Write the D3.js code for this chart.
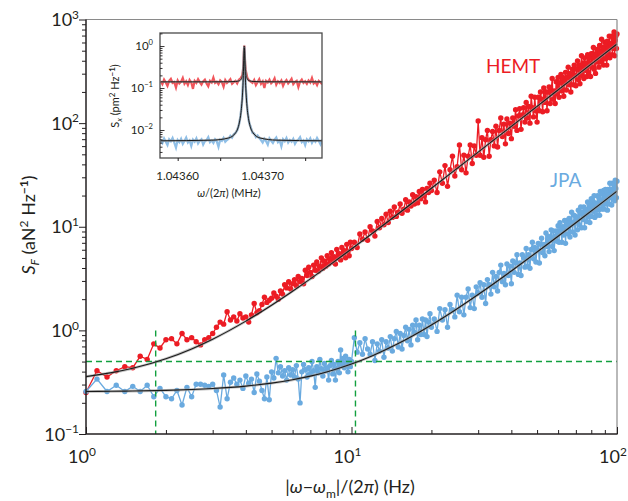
<!DOCTYPE html>
<html><head><meta charset="utf-8">
<script src="https://cdnjs.cloudflare.com/ajax/libs/d3/7.8.5/d3.min.js"></script>
<style>body{margin:0;background:#fff}text{font-family:Lato,"Open Sans",sans-serif;fill:#231f20}</style>
</head><body>
<svg id="c" width="628" height="501"></svg>
<script>
// ---------- main panel data ----------
const freqHz = [1,1.1,1.2,1.3,1.4,1.5,1.6,1.7,1.8,1.9,2,2.1,2.2,2.3,2.4,2.5,2.6,2.7,2.8,2.9,3,3.1,3.2,3.3,3.4,3.5,3.6,3.7,3.8,3.9,4,4.1,4.2,4.3,4.4,4.5,4.6,4.7,4.8,4.9,5,5.1,5.2,5.3,5.4,5.5,5.6,5.7,5.8,5.9,6,6.1,6.2,6.3,6.4,6.5,6.6,6.7,6.8,6.9,7,7.1,7.2,7.3,7.4,7.5,7.6,7.7,7.8,7.9,8,8.1,8.2,8.3,8.4,8.5,8.6,8.7,8.8,8.9,9,9.1,9.2,9.3,9.4,9.5,9.6,9.7,9.8,9.9,10,
10.25,10.5,10.75,11,11.25,11.5,11.75,12,12.25,12.5,12.75,13,13.25,13.5,13.75,14,14.25,14.5,14.75,15,15.25,15.5,15.75,16,16.25,16.5,16.75,17,17.25,17.5,17.75,18,18.25,18.5,18.75,19,19.25,19.5,19.75,20,
20.5,21,21.5,22,22.5,23,23.5,24,24.5,25,25.5,26,26.5,27,27.5,28,28.5,29,29.5,30,30.5,31,31.5,32,32.5,33,33.5,34,34.5,35,35.5,36,36.5,37,37.5,38,38.5,39,39.5,40,40.5,41,41.5,42,42.5,43,43.5,44,44.5,45,45.5,46,46.5,47,47.5,48,48.5,49,49.5,50,50.5,51,51.5,52,52.5,53,53.5,54,54.5,55,55.5,56,56.5,57,57.5,58,58.5,59,59.5,60,60.5,61,61.5,62,62.5,63,63.5,64,64.5,65,65.5,66,66.5,67,67.5,68,68.5,69,69.5,70,70.5,71,71.5,72,72.5,73,73.5,74,74.5,75,75.5,76,76.5,77,77.5,78,78.5,79,79.5,80,80.5,81,81.5,82,82.5,83,83.5,84,84.5,85,85.5,86,86.5,87,87.5,88,88.5,89,89.5,90,90.5,91,91.5,92,92.5,93,93.5,94,94.5,95,95.5,96,96.5,97,97.5,98,98.5,99,99.5,100];

// log10 of S_F (aN^2/Hz)
const hemtLog = [-0.60,-0.39,-0.45,-0.39,-0.35,-0.36,-0.25,-0.28,-0.13,-0.17,
-0.09,-0.08,-0.13,-0.03,-0.09,-0.07,-0.11,-0.14,-0.09,-0.07,
-0.03,0.03,0.08,0.06,0.18,0.10,0.13,0.09,0.16,0.12,
0.13,0.08,0.15,0.26,0.17,0.19,0.25,0.32,0.27,0.29,
0.31,0.36,0.33,0.30,0.38,0.35,0.44,0.41,0.47,0.40,
0.45,0.49,0.43,0.52,0.47,0.50,0.45,0.58,0.53,0.61,
0.56,0.52,0.63,0.58,0.66,0.57,0.62,0.70,0.60,0.67,
0.62,0.72,0.64,0.69,0.75,0.66,0.71,0.64,0.78,0.70,
0.74,0.68,0.80,0.73,0.77,0.70,0.83,0.76,0.72,0.85,
0.79,
0.85,0.80,0.93,0.88,0.95,0.87,1.00,0.96,0.91,1.05,0.99,1.08,1.02,1.12,1.04,1.15,1.09,1.19,1.10,1.14,
1.22,1.13,1.17,1.26,1.16,1.24,1.20,1.31,1.22,1.29,1.23,1.34,1.27,1.36,1.30,1.24,1.37,1.33,1.42,1.35,
1.45,1.33,1.53,1.42,1.59,1.39,1.55,1.68,1.49,1.58,
1.79,1.55,1.69,1.52,1.68,1.79,1.61,1.78,1.69,2.02,
1.69,1.86,1.67,1.84,1.93,1.68,1.84,1.92,1.78,1.97,
1.77,1.93,2.05,1.87,1.99,1.80,2.04,1.90,2.00,1.85,
2.05,1.97,2.13,1.93,2.07,2.14,1.94,2.08,2.15,2.01,
2.20,2.05,2.16,2.00,2.26,2.15,2.06,2.25,2.12,2.01,
2.25,2.12,2.30,2.23,2.11,2.34,2.20,2.30,2.12,2.30,
2.35,2.19,2.31,2.43,2.23,2.31,2.19,2.40,2.28,2.44,
2.25,2.39,2.47,2.31,2.44,2.26,2.40,2.49,2.32,2.44,
2.54,2.37,2.48,2.30,2.46,2.52,2.37,2.56,2.46,2.36,
2.52,2.60,2.42,2.56,2.38,2.52,2.65,2.46,2.58,2.43,
2.63,2.51,2.58,2.45,2.66,2.49,2.63,2.58,2.45,2.67,
2.54,2.67,2.73,2.52,2.63,2.48,2.67,2.71,2.59,2.70,
2.54,2.75,2.68,2.59,2.81,2.63,2.73,2.56,2.72,2.78,
2.62,2.76,2.56,2.79,2.72,2.66,2.84,2.63,2.77,2.75,
2.84,2.66,2.82,2.72,2.88,2.65,2.80,2.84,2.72,2.86];

const jpaLog = [-0.59,-0.47,-0.59,-0.53,-0.59,-0.54,-0.59,-0.53,-0.64,-0.56,
-0.64,-0.66,-0.58,-0.72,-0.55,-0.64,-0.52,-0.52,-0.53,-0.54,
-0.52,-0.58,-0.74,-0.43,-0.66,-0.50,-0.46,-0.52,-0.48,-0.56,
-0.44,-0.51,-0.47,-0.60,-0.42,-0.49,-0.58,-0.66,-0.45,-0.67,
-0.40,-0.46,-0.27,-0.41,-0.35,-0.44,-0.39,-0.48,-0.36,-0.43,
-0.38,-0.45,-0.34,-0.47,-0.70,-0.40,-0.33,-0.38,-0.45,-0.36,
-0.42,-0.30,-0.39,-0.55,-0.35,-0.41,-0.28,-0.37,-0.44,-0.32,
-0.39,-0.36,-0.48,-0.34,-0.29,-0.42,-0.33,-0.48,-0.37,-0.30,
-0.41,-0.19,-0.33,-0.27,-0.36,-0.25,-0.31,-0.40,-0.28,-0.35,
-0.30,
-0.07,-0.21,-0.12,-0.23,-0.08,-0.18,-0.23,-0.11,-0.29,-0.13,-0.20,-0.09,-0.26,-0.11,-0.17,-0.06,-0.20,-0.08,-0.01,-0.16,
-0.03,-0.18,-0.05,0.03,-0.10,0.01,-0.14,0.05,-0.02,0.10,-0.09,0.05,-0.04,0.11,-0.04,0.10,-0.06,0.08,0.16,0.03,
0.11,-0.01,0.21,0.10,0.20,0.03,0.25,0.20,0.13,0.34,
0.18,0.32,0.15,0.32,0.40,0.22,0.34,0.21,0.42,0.36,
0.46,0.32,0.44,0.26,0.49,0.44,0.35,0.56,0.42,0.52,
0.38,0.56,0.63,0.47,0.55,0.44,0.64,0.53,0.62,0.45,
0.67,0.56,0.65,0.73,0.54,0.65,0.53,0.73,0.70,0.61,
0.79,0.62,0.73,0.60,0.78,0.85,0.69,0.80,0.66,0.78,
0.84,0.65,0.83,0.89,0.75,0.83,0.72,0.94,0.81,0.91,
0.76,0.89,0.97,0.81,0.96,0.77,0.91,0.96,0.86,1.01,
0.85,1.04,0.96,0.85,1.00,0.92,1.06,0.84,1.02,1.06,
0.93,1.08,0.90,1.04,1.14,0.95,1.04,1.11,0.92,1.10,
1.08,0.97,1.16,1.02,1.14,1.19,0.99,1.14,1.07,1.19,
0.99,1.17,1.13,1.05,1.24,1.10,1.22,1.04,1.19,1.27,
1.10,1.25,1.15,1.30,1.09,1.23,1.22,1.11,1.30,1.16,
1.28,1.11,1.34,1.24,1.17,1.32,1.21,1.35,1.17,1.30,
1.36,1.22,1.33,1.16,1.36,1.31,1.22,1.42,1.28,1.36,
1.21,1.42,1.35,1.27,1.41,1.25,1.45,1.37,1.28,1.44];

// fitted curves (aN^2/Hz)
const fitFreq = [1,1.25,1.5,2,2.5,3,4,5,6,7,8,10,12,15,20,25,30,40,50,60,70,85,100];
const hemtFit = [0.358,0.391,0.4305,0.532,0.6625,0.822,1.228,1.75,2.388,3.142,4.012,6.1,8.652,13.35,23.5,36.55,52.5,93.1,145.3,209.1,284.5,419.4,580.3];
const jpaFit  = [0.257,0.2584,0.2599,0.2637,0.2686,0.2746,0.2899,0.3095,0.3335,0.3618,0.3945,0.473,0.569,0.7455,1.127,1.6175,2.217,3.743,5.705,8.103,10.937,16.005,22.055];

// dashed guides
const guideLevel = 0.5;
const guideFreqs = [1.83, 10.35];
const guideTop = 1;

// axis ticks
const mainXMajor = [1,10,100];
const mainXExp = ["0","1","2"];
const mainYMajor = [0.1,1,10,100,1000];
const mainYExp = ["\u22121","0","1","2","3"];

// ---------- inset data (offset from 1.04360 MHz, in Hz) ----------
const insetFreq = [-20,-18,-16,-14,-12,-10,-8,-6,-4,-2,0,2,4,6,8,10,12,14,16,18,20,22,24,26,28,30,32,34,36,38,40,42,44,46,48,50,52,54,56,58,60,62,64,66,68,70,72,74,
76,76.8,77.4,77.8,78.1,78.4,78.7,79,79.4,80,
82,84,86,88,90,92,94,96,98,100,102,104,106,108,110,112,114,116,118,120,122,124,126,128,130,132,134,136,138,140,142,144,146,148,150,152,154,156,158,160,162,164,166,168,170];
const insetRedLog = [-0.84,-0.91,-0.80,-0.87,-0.95,-0.83,-0.78,-0.88,-0.86,-0.99,
-0.82,-0.89,-0.85,-0.76,-0.90,-0.84,-0.93,-0.81,-0.87,-1.02,
-0.83,-0.88,-0.79,-0.86,-0.92,-0.84,-0.80,-0.89,-0.96,-0.83,
-0.87,-0.75,-0.88,-0.85,-0.91,-0.82,-0.86,-0.97,-0.81,-0.88,
-0.84,-0.79,-0.90,-0.86,-0.83,-0.89,-0.80,-0.77,
-0.70,-0.58,-0.40,-0.21,-0.05,0.01,-0.08,-0.25,-0.44,-0.57,
-0.76,-0.82,-0.85,
-0.88,-0.81,-0.93,-0.86,-0.79,-0.90,-0.84,-1.00,-0.83,-0.87,
-0.80,-0.89,-0.85,-0.77,-0.92,-0.84,-0.88,-0.82,-0.95,-0.86,
-0.81,-0.89,-0.84,-0.78,-0.91,-0.86,-0.83,-0.98,-0.85,-0.80,
-0.88,-0.84,-0.90,-0.82,-0.87,-0.76,-0.89,-0.85,-0.93,-0.83,
-0.87,-0.91];
const insetBlueLog = [-2.25,-2.31,-2.20,-2.28,-2.36,-2.22,-2.27,-2.19,-2.30,-2.42,
-2.24,-2.29,-2.21,-2.33,-2.26,-2.18,-2.30,-2.25,-2.38,-2.23,
-2.28,-2.20,-2.32,-2.26,-2.22,-2.35,-2.27,-2.24,-2.17,-2.29,
-2.25,-2.31,-2.22,-2.27,-2.40,-2.23,-2.26,-2.19,-2.28,-2.24,
-2.21,-2.14,-2.18,-2.10,-2.07,-2.01,-1.88,-1.66,
-1.24,-0.92,-0.62,-0.33,-0.13,-0.02,-0.15,-0.35,-0.60,-0.95,
-1.52,-1.82,-1.93,-2.07,-2.08,-2.17,-2.13,-2.19,
-2.24,-2.30,-2.21,-2.27,-2.35,-2.20,-2.26,-2.31,-2.23,-2.18,
-2.29,-2.25,-2.39,-2.22,-2.27,-2.19,-2.30,-2.24,-2.28,-2.21,
-2.33,-2.26,-2.23,-2.17,-2.29,-2.25,-2.36,-2.22,-2.27,-2.20,
-2.31,-2.24,-2.28,-2.19,-2.26,-2.34,-2.23];
const insetFitFreq = [-20,40,60,68,72,74,75,76,76.8,77.4,77.8,78.1,78.4,78.7,79,79.4,80,80.8,81.8,82.8,84.8,88.8,96.8,116.8,170];
const insetRedFit = [0.14003,0.1402,0.1409,0.1429,0.1475,0.1557,0.166,0.1905,0.246,0.3676,0.570,0.828,1.0,0.828,0.570,0.3676,0.246,0.1905,0.166,0.1557,0.1475,0.1429,0.1409,0.1402,0.14004];
const insetBlueFit = [0.00553,0.00572,0.00646,0.00849,0.01334,0.02193,0.03268,0.0584,0.1165,0.2437,0.4555,0.7255,0.9055,0.7255,0.4555,0.2437,0.1165,0.0584,0.03268,0.02193,0.01334,0.00849,0.00646,0.00572,0.00554];
const insetXTicks = [0,50,100,150];
const insetXLabelAt = [0,100];
const insetXLabels = ["1.04360","1.04370"];
const insetYMajor = [1,0.1,0.01];
const insetYExp = ["0","\u22121","\u22122"];

// ---------- drawing ----------
const RED = "#ec1c24", BLUE = "#6aaadf", GREEN = "#12a03e";
const svg = d3.select("#c");
const M = {l:86, r:617, t:19.5, b:434};
const x = d3.scaleLog().domain([1,100]).range([M.l,M.r]);
const y = d3.scaleLog().domain([0.1,1000]).range([M.b,M.t]);

function supText(g, px, py, base, exp, size, anchor){
  const t = g.append("text").attr("x",px).attr("y",py).attr("text-anchor",anchor).style("font-size",size+"px");
  t.append("tspan").text(base);
  t.append("tspan").text(exp).style("font-size",(size*0.66)+"px").attr("dy",-size*0.4);
  return t;
}

// series
const hemt = freqHz.map((f,i)=>({f, v:Math.pow(10,hemtLog[i])}));
const jpa  = freqHz.map((f,i)=>({f, v:Math.pow(10,jpaLog[i])}));
const line = d3.line().x(d=>x(d.f)).y(d=>y(d.v));
const plot = svg.append("g");
[[hemt,RED],[jpa,BLUE]].forEach(([data,col])=>{
  plot.append("path").datum(data).attr("d",line).attr("fill","none").attr("stroke",col).attr("stroke-width",1.3);
  plot.selectAll(null).data(data).enter().append("circle")
    .attr("cx",d=>x(d.f)).attr("cy",d=>y(d.v)).attr("r",2.7).attr("fill",col);
});

// dashed guides
plot.append("line").attr("x1",M.l).attr("x2",M.r).attr("y1",y(guideLevel)).attr("y2",y(guideLevel))
  .attr("stroke",GREEN).attr("stroke-width",1.4).attr("stroke-dasharray","6,4");
guideFreqs.forEach(f=>{
  plot.append("line").attr("x1",x(f)).attr("x2",x(f)).attr("y1",y(guideTop)).attr("y2",M.b)
    .attr("stroke",GREEN).attr("stroke-width",1.4).attr("stroke-dasharray","6,4");
});

// fits
const fitLine = d3.line().x(d=>x(d.f)).y(d=>y(d.v)).curve(d3.curveMonotoneX);
[hemtFit,jpaFit].forEach(arr=>{
  const data = fitFreq.map((f,i)=>({f,v:arr[i]}));
  plot.append("path").datum(data).attr("d",fitLine).attr("fill","none").attr("stroke","#9a9a9a").attr("stroke-opacity",0.6).attr("stroke-width",2.8);
  plot.append("path").datum(data).attr("d",fitLine).attr("fill","none").attr("stroke","#1a1a1a").attr("stroke-width",1.1);
});

// frame
svg.append("line").attr("x1",M.l).attr("x2",M.r).attr("y1",M.t).attr("y2",M.t).attr("stroke","#8a8a8a").attr("stroke-width",1.2);
svg.append("line").attr("x1",M.r).attr("x2",M.r).attr("y1",M.t).attr("y2",M.b).attr("stroke","#8a8a8a").attr("stroke-width",1.2);

// axes
const minorX = x.ticks().filter(v=>!mainXMajor.includes(v));
const minorY = y.ticks().filter(v=>!mainYMajor.some(m=>Math.abs(m-v)/m<1e-9));
const gx = svg.append("g").attr("transform",`translate(0,${M.b})`);
gx.call(d3.axisBottom(x).tickValues(minorX).tickSize(-4).tickFormat(""));
gx.append("g").call(d3.axisBottom(x).tickValues(mainXMajor).tickSize(-7).tickFormat(""));
gx.selectAll(".domain").remove();
gx.selectAll("line").attr("stroke","#231f20").attr("stroke-width",1);
const gy = svg.append("g").attr("transform",`translate(${M.l},0)`);
gy.call(d3.axisLeft(y).tickValues(minorY).tickSize(4).tickFormat(""));
gy.append("g").call(d3.axisLeft(y).tickValues(mainYMajor).tickSize(7).tickFormat(""));
gy.selectAll(".domain").remove();
gy.selectAll("line").attr("stroke","#231f20").attr("stroke-width",1);
svg.append("line").attr("x1",M.l).attr("x2",M.r+0.6).attr("y1",M.b).attr("y2",M.b).attr("stroke","#231f20").attr("stroke-width",1.5);
svg.append("line").attr("x1",M.l).attr("x2",M.l).attr("y1",M.t).attr("y2",M.b).attr("stroke","#231f20").attr("stroke-width",1.5);

mainXMajor.forEach((v,i)=>supText(svg, x(v)-4, 463, "10", mainXExp[i], 18, "middle"));
mainYMajor.forEach((v,i)=>supText(svg, 79, y(v)+6.5, "10", mainYExp[i], 18, "end"));

// axis titles
const yl = svg.append("text").attr("transform","translate(35,225) rotate(-90)").attr("text-anchor","middle").style("font-size","18px");
yl.append("tspan").text("S").style("font-style","italic");
yl.append("tspan").text("F").style("font-style","italic").style("font-size","12px").attr("dy",4);
yl.append("tspan").text(" (aN").attr("dy",-4);
yl.append("tspan").text("2").style("font-size","12px").attr("dy",-7);
yl.append("tspan").text(" Hz").attr("dy",7);
yl.append("tspan").text("\u22121").style("font-size","12px").style("font-weight","bold").attr("dy",-7);
yl.append("tspan").text(")").attr("dy",7);

const xl = svg.append("text").attr("x",350).attr("y",493).attr("text-anchor","middle").style("font-size","18px");
xl.append("tspan").text("|");
xl.append("tspan").text("\u03C9").style("font-style","italic");
xl.append("tspan").text("\u2212");
xl.append("tspan").text("\u03C9").style("font-style","italic");
xl.append("tspan").text("m").style("font-size","12px").attr("dy",5);
xl.append("tspan").text("|/(2").attr("dy",-5);
xl.append("tspan").text("\u03C0").style("font-style","italic");
xl.append("tspan").text(") (Hz)");

svg.append("text").attr("x",486).attr("y",73).style("font-size","19px").style("fill",RED).text("HEMT");
svg.append("text").attr("x",550).attr("y",187).style("font-size","19px").style("fill",BLUE).text("JPA");

// ---------- inset ----------
const I = {l:160, r:322, t:33, b:158};
const xi = d3.scaleLinear().domain([-20.8,169.8]).range([I.l,I.r]);
const yi = d3.scaleLog().domain([Math.pow(10,-2.667),Math.pow(10,0.31)]).range([I.b,I.t]);
svg.append("rect").attr("x",I.l).attr("y",I.t).attr("width",I.r-I.l).attr("height",I.b-I.t).attr("fill","#fff");
svg.append("clipPath").attr("id","ic").append("rect").attr("x",I.l).attr("y",I.t).attr("width",I.r-I.l).attr("height",I.b-I.t);
const ig = svg.append("g").attr("clip-path","url(#ic)");
const iline = d3.line().x(d=>xi(d.f)).y(d=>yi(d.v));
[[insetRedLog,RED],[insetBlueLog,BLUE]].forEach(([arr,col])=>{
  const data = insetFreq.map((f,i)=>({f,v:Math.pow(10,arr[i])}));
  ig.append("path").datum(data).attr("d",iline).attr("fill","none").attr("stroke",col).attr("stroke-opacity",0.75).attr("stroke-width",2.2);
});
const ifit = d3.line().x(d=>xi(d.f)).y(d=>yi(d.v)).curve(d3.curveMonotoneX);
[insetRedFit,insetBlueFit].forEach(arr=>{
  const data = insetFitFreq.map((f,i)=>({f,v:arr[i]}));
  ig.append("path").datum(data).attr("d",ifit).attr("fill","none").attr("stroke","#999").attr("stroke-opacity",0.5).attr("stroke-width",2.4);
  ig.append("path").datum(data).attr("d",ifit).attr("fill","none").attr("stroke","#1a1a1a").attr("stroke-width",1);
});
svg.append("rect").attr("x",I.l).attr("y",I.t).attr("width",I.r-I.l).attr("height",I.b-I.t).attr("fill","none").attr("stroke","#4a4a4a").attr("stroke-width",1.3);

const gix = svg.append("g").attr("transform",`translate(0,${I.b})`);
gix.call(d3.axisBottom(xi).tickValues(insetXTicks).tickSize(3).tickFormat(""));
gix.selectAll(".domain").remove();
gix.selectAll("line").attr("stroke","#231f20");
const minorIY = yi.ticks().filter(v=>!insetYMajor.some(m=>Math.abs(m-v)/m<1e-9));
const giy = svg.append("g").attr("transform",`translate(${I.l},0)`);
giy.call(d3.axisLeft(yi).tickValues(minorIY).tickSize(-2.5).tickFormat(""));
giy.append("g").call(d3.axisLeft(yi).tickValues(insetYMajor).tickSize(-4.5).tickFormat(""));
giy.selectAll(".domain").remove();
giy.selectAll("line").attr("stroke","#231f20").attr("stroke-width",0.9);

insetXLabelAt.forEach((v,i)=>svg.append("text").attr("x",xi(v)).attr("y",180).attr("text-anchor","middle").style("font-size","11.5px").text(insetXLabels[i]));
insetYMajor.forEach((v,i)=>supText(svg, 153, yi(v)+4, "10", insetYExp[i], 11.5, "end"));

const ixl = svg.append("text").attr("x",229).attr("y",197).attr("text-anchor","middle").style("font-size","11px");
ixl.append("tspan").text("\u03C9").style("font-style","italic");
ixl.append("tspan").text("/(2");
ixl.append("tspan").text("\u03C0").style("font-style","italic");
ixl.append("tspan").text(") (MHz)");

const iyl = svg.append("text").attr("transform","translate(119,96) rotate(-90)").attr("text-anchor","middle").style("font-size","11px");
iyl.append("tspan").text("S");
iyl.append("tspan").text("x").style("font-style","italic").style("font-size","8px").attr("dy",3);
iyl.append("tspan").text(" (pm").attr("dy",-3);
iyl.append("tspan").text("2").style("font-size","8px").attr("dy",-4);
iyl.append("tspan").text(" Hz").attr("dy",4);
iyl.append("tspan").text("\u22121").style("font-size","8px").style("font-weight","bold").attr("dy",-4);
iyl.append("tspan").text(")").attr("dy",4);
</script>
</body></html>
